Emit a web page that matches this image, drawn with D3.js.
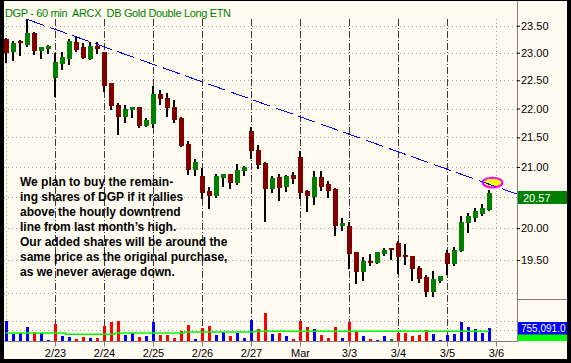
<!DOCTYPE html>
<html>

<head>
	<title>DGP - 60 min</title>
	<meta charset="utf-8">
	<script src="https://cdn.jsdelivr.net/npm/d3@7"></script>
</head>

<style>
	body { margin: 0; background: #000; }
	svg { display: block; }
	text { font-family: "Liberation Sans", Arial, sans-serif; }
</style>

<body>

	<svg width="571" height="363"></svg>

	<script>
		var title = 'DGP - 60 min  ARCX  DB Gold Double Long ETN';

		// one label per trading day, at the first hourly bar of that day
		var dayLabels = ['2/23', '2/24', '2/25', '2/26', '2/27', 'Mar', '3/3', '3/4', '3/5', '3/6'];
		var dayStarts = [7, 14, 21, 28, 35, 42, 49, 56, 63, 70];

		var opens = [23.25, 23.02, 23.22, 23.15, 23.37, 23.04, 23.06, 22.55, 22.80, 22.89,
			23.20, 23.11, 22.89, 23.13, 23.01, 22.45, 22.06, 21.86, 21.98, 22.02,
			21.70, 21.73, 22.26, 22.19, 22.03, 21.84, 21.39, 20.95, 20.85, 20.60,
			20.52, 20.81, 20.88, 20.74, 20.94, 21.61, 21.28, 21.07, 20.63, 20.84,
			20.66, 20.87, 21.17, 20.60, 20.51, 20.83, 20.71, 20.64, 20.04, 20.04,
			19.62, 19.32, 19.48, 19.46, 19.59, 19.68, 19.76, 19.58, 19.56, 19.38,
			19.24, 19.01, 19.18, 19.61, 19.44, 19.64, 20.09, 20.16, 20.22, 20.29];
		var highs = [23.27, 23.22, 23.23, 23.62, 23.39, 23.11, 23.14, 22.99, 23.01, 23.25,
			23.31, 23.17, 23.20, 23.20, 23.02, 22.46, 22.09, 22.07, 22.03, 22.03,
			21.83, 22.40, 22.33, 22.27, 22.15, 21.85, 21.43, 21.13, 20.98, 20.66,
			20.88, 20.89, 20.89, 21.05, 21.01, 21.68, 21.37, 21.09, 20.85, 20.89,
			20.86, 20.92, 21.26, 20.61, 20.93, 20.93, 20.77, 20.65, 20.17, 20.10,
			19.63, 19.54, 19.59, 19.63, 19.68, 19.69, 19.79, 19.75, 19.57, 19.40,
			19.27, 19.33, 19.26, 19.66, 19.70, 20.20, 20.24, 20.32, 20.39, 20.62];
		var lows = [22.82, 22.84, 22.94, 23.11, 22.96, 22.89, 22.98, 22.21, 22.69, 22.78,
			23.01, 22.88, 22.87, 22.97, 22.29, 21.97, 21.54, 21.75, 21.83, 21.66,
			21.68, 21.66, 22.07, 21.86, 21.75, 21.34, 20.87, 20.85, 20.47, 20.31,
			20.49, 20.66, 20.63, 20.70, 20.85, 21.13, 20.96, 20.10, 20.57, 20.43,
			20.59, 20.71, 20.47, 20.26, 20.37, 20.60, 20.49, 19.88, 19.96, 19.36,
			19.13, 19.17, 19.40, 19.44, 19.57, 19.50, 19.28, 19.42, 19.18, 19.14,
			18.94, 18.94, 19.14, 19.27, 19.40, 19.63, 19.93, 20.10, 20.20, 20.28];
		var closes = [23.00, 23.17, 23.18, 23.36, 23.04, 23.10, 23.12, 22.83, 22.92, 23.22,
			23.05, 22.91, 23.12, 23.06, 22.40, 22.05, 21.86, 22.00, 22.02, 21.70,
			21.80, 22.25, 22.16, 22.01, 21.80, 21.35, 20.95, 21.09, 20.57, 20.52,
			20.85, 20.88, 20.74, 20.95, 21.00, 21.26, 21.03, 20.63, 20.82, 20.65,
			20.85, 20.80, 20.57, 20.52, 20.83, 20.66, 20.60, 20.04, 20.09, 19.59,
			19.32, 19.48, 19.45, 19.62, 19.65, 19.65, 19.55, 19.54, 19.36, 19.21,
			19.01, 19.21, 19.25, 19.44, 19.66, 20.10, 20.20, 20.28, 20.32, 20.57];

		var volumes = [1160000, 425000, 465000, 810000, 520000, 465000, 60000, 985000, 290000, 230000,
			115000, 230000, 175000, 175000, 870000, 1100000, 1160000, 350000, 465000, 230000,
			290000, 1100000, 350000, 350000, 175000, 580000, 930000, 115000, 755000, 870000,
			350000, 520000, 290000, 465000, 175000, 1220000, 695000, 1640000, 425000, 465000,
			290000, 115000, 1160000, 810000, 695000, 350000, 175000, 810000, 175000, 1100000,
			580000, 290000, 115000, 60000, 290000, 115000, 465000, 465000, 290000, 350000,
			640000, 405000, 60000, 350000, 405000, 1100000, 810000, 695000, 465000, 755091];
		// volume average as it reads off the green line
		var volAvg = [464000, 464000, 464000, 464000, 464000, 464000, 464000, 464000, 464000, 389000,
			389000, 389000, 389000, 389000, 389000, 389000, 464000, 464000, 464000, 464000,
			464000, 464000, 464000, 464000, 464000, 464000, 522000, 522000, 522000, 522000,
			522000, 522000, 522000, 522000, 522000, 522000, 563000, 563000, 563000, 563000,
			563000, 563000, 563000, 563000, 563000, 563000, 563000, 563000, 563000, 563000,
			563000, 563000, 563000, 563000, 563000, 563000, 563000, 563000, 563000, 563000,
			563000, 563000, 563000, 563000, 563000, 563000, 563000, 563000, 563000, 563000];

		var gridPrices = [19, 19.5, 20, 20.5, 21, 21.5, 22, 22.5, 23, 23.5];
		var volGrid = [640000, 1160000];
		var gridBars = [0, 70];

		// downtrend line from last month's high, in [bar, price]
		var trendLine = [[3, 23.62], [73, 20.55]];
		var highlight = [69.5, 20.74];

		var noteLines = [
			'We plan to buy the remain-',
			'ing shares of DGP if it rallies',
			'above the hourly downtrend',
			'line from last month\u2019s high.',
			'Our added shares will be around the',
			'same price as the original purchase,',
			'as we never average down.'
		];

		var svg = d3.select('svg');

		var x = d3.scaleLinear().domain([0, 69]).range([6, 489]);
		var y = d3.scaleLog().domain([19.5, 23.5]).range([260, 25.7]);
		var yVol = d3.scaleLinear().domain([0, 1800000]).range([341, 310]);

		function px(v) {
			return Math.round(v) + 0.5;
		}

		var last = closes.length - 1;
		var lastY = y(closes[last]);

		svg.append('rect').attr('width', 571).attr('height', 363).attr('fill', '#000');
		svg.append('rect').attr('x', 4).attr('y', 1).attr('width', 563).attr('height', 358)
			.attr('fill', '#fffbf0');

		// grid
		var grid = svg.append('g').attr('stroke', '#a0a0a0').attr('stroke-dasharray', '1,3')
			.attr('shape-rendering', 'crispEdges');
		grid.selectAll('.hp').data(gridPrices).enter().append('line')
			.attr('x1', 4).attr('x2', 517)
			.attr('y1', function(d) { return px(y(d)); })
			.attr('y2', function(d) { return px(y(d)); });
		grid.selectAll('.hv').data(volGrid).enter().append('line')
			.attr('x1', 4).attr('x2', 517)
			.attr('y1', function(d) { return px(yVol(d)); })
			.attr('y2', function(d) { return px(yVol(d)); });
		grid.selectAll('.vb').data(gridBars).enter().append('line')
			.attr('x1', function(d) { return x(d) + 0.5; })
			.attr('x2', function(d) { return x(d) + 0.5; })
			.attr('y1', 19).attr('y2', 341);

		// day separators
		svg.append('g').selectAll('line')
			.data(dayStarts.filter(function(d) { return d < closes.length; }))
			.enter().append('line')
			.attr('x1', function(d) { return x(d) + 0.5; })
			.attr('x2', function(d) { return x(d) + 0.5; })
			.attr('y1', 19).attr('y2', 341)
			.attr('stroke', '#3a3a3a')
			.attr('stroke-dasharray', '7,2,1,2')
			.attr('shape-rendering', 'crispEdges');

		svg.append('text').attr('x', 5).attr('y', 17)
			.attr('fill', '#008000').attr('font-size', 11)
			.attr('letter-spacing', -0.35)
			.style('white-space', 'pre')
			.text(title);

		// candles
		var candles = svg.append('g').attr('shape-rendering', 'crispEdges');
		candles.selectAll('.wick').data(closes).enter().append('rect')
			.attr('x', function(d, i) { return x(i) - 1; })
			.attr('width', 2)
			.attr('y', function(d, i) { return y(highs[i]); })
			.attr('height', function(d, i) { return Math.max(1, y(lows[i]) - y(highs[i])); })
			.attr('fill', '#000');
		candles.selectAll('.body').data(closes).enter().append('rect')
			.attr('x', function(d, i) { return x(i) - 2; })
			.attr('width', 5)
			.attr('y', function(d, i) { return y(Math.max(opens[i], d)); })
			.attr('height', function(d, i) { return Math.max(1, Math.abs(y(opens[i]) - y(d))); })
			.attr('fill', function(d, i) { return d >= opens[i] ? '#008000' : '#800000'; });

		// volume
		svg.append('g').attr('shape-rendering', 'crispEdges')
			.selectAll('rect').data(volumes).enter().append('rect')
			.attr('x', function(d, i) { return x(i) - 1; })
			.attr('width', 3)
			.attr('y', function(d) { return yVol(d); })
			.attr('height', function(d) { return yVol(0) - yVol(d); })
			.attr('fill', function(d, i) {
				if (i === 0 || closes[i] > closes[i - 1]) return '#0000ff';
				if (closes[i] < closes[i - 1]) return '#ff0000';
				return '#008000';
			});

		var avgLine = d3.line()
			.x(function(d, i) { return x(i); })
			.y(function(d) { return yVol(d); })
			.curve(d3.curveStep);
		svg.append('path').datum(volAvg)
			.attr('d', avgLine)
			.attr('fill', 'none').attr('stroke', '#00ff00').attr('stroke-width', 1.5);

		// highlight and trend line
		svg.append('ellipse')
			.attr('cx', x(highlight[0])).attr('cy', y(highlight[1]))
			.attr('rx', 10).attr('ry', 4.8)
			.attr('fill', '#ffff00').attr('stroke', '#ff00ff').attr('stroke-width', 2);

		svg.append('line')
			.attr('x1', x(trendLine[0][0])).attr('y1', y(trendLine[0][1]))
			.attr('x2', x(trendLine[1][0])).attr('y2', y(trendLine[1][1]))
			.attr('stroke', '#0000ff').attr('stroke-dasharray', '18,6')
			.attr('shape-rendering', 'crispEdges');

		svg.append('g').selectAll('text').data(noteLines).enter().append('text')
			.attr('x', 20)
			.attr('y', function(d, i) { return 185.7 + i * 15; })
			.attr('font-size', 12).attr('font-weight', 'bold').attr('fill', '#000')
			.text(function(d) { return d; });

		// right price axis
		svg.append('line').attr('x1', 517.5).attr('x2', 517.5).attr('y1', 1).attr('y2', 342)
			.attr('stroke', '#808080');
		svg.append('line').attr('x1', 517).attr('x2', 567).attr('y1', 299.5).attr('y2', 299.5)
			.attr('stroke', '#808080');

		// the last-price tag hides the tick label it sits on
		var yAxis = d3.axisRight(y)
			.tickValues(gridPrices.filter(function(d) {
				return d >= 19.5 && Math.abs(y(d) - lastY) > 9;
			}))
			.tickFormat(d3.format('.2f'))
			.tickSize(3).tickPadding(1);
		var ya = svg.append('g').attr('transform', 'translate(517,0)').call(yAxis);
		ya.select('.domain').remove();
		ya.selectAll('text').attr('font-size', 11).attr('font-family', 'Liberation Sans, Arial, sans-serif')
			.attr('fill', '#000');
		ya.selectAll('line').attr('stroke', '#000');

		svg.append('rect').attr('x', 518).attr('y', Math.round(lastY) - 2).attr('width', 49).attr('height', 13)
			.attr('fill', '#008000');
		svg.append('text').attr('x', 523).attr('y', Math.round(lastY) + 8.5)
			.attr('font-size', 11).attr('fill', '#fff')
			.text(d3.format('.2f')(closes[last]));

		var volY = Math.round(yVol(volumes[last]));
		svg.append('rect').attr('x', 518).attr('y', volY + 6).attr('width', 49).attr('height', 335 - volY)
			.attr('fill', '#00ff00');
		svg.append('rect').attr('x', 518).attr('y', volY - 6).attr('width', 49).attr('height', 12.5)
			.attr('fill', '#0000ff');
		svg.append('text').attr('x', 521).attr('y', volY + 4)
			.attr('font-size', 10).attr('fill', '#fff')
			.text(d3.format(',.1f')(volumes[last]));

		// time axis
		var xAxis = d3.axisBottom(x)
			.tickValues(dayStarts)
			.tickFormat(function(d, i) { return dayLabels[i]; })
			.tickSize(5).tickPadding(3);
		var xa = svg.append('g').attr('transform', 'translate(0,341.5)').call(xAxis);
		xa.select('.domain').remove();
		xa.selectAll('line').attr('stroke', '#808080');
		xa.selectAll('text').attr('font-size', 11).attr('font-family', 'Liberation Sans, Arial, sans-serif')
			.attr('fill', '#000');
		svg.append('line').attr('x1', 4).attr('x2', 518).attr('y1', 341.5).attr('y2', 341.5)
			.attr('stroke', '#808080');

		// black frame
		svg.append('rect').attr('x', 567).attr('y', 0).attr('width', 4).attr('height', 363).attr('fill', '#000');
		svg.append('rect').attr('x', 0).attr('y', 359).attr('width', 571).attr('height', 4).attr('fill', '#000');
	</script>
</body>

</html>
